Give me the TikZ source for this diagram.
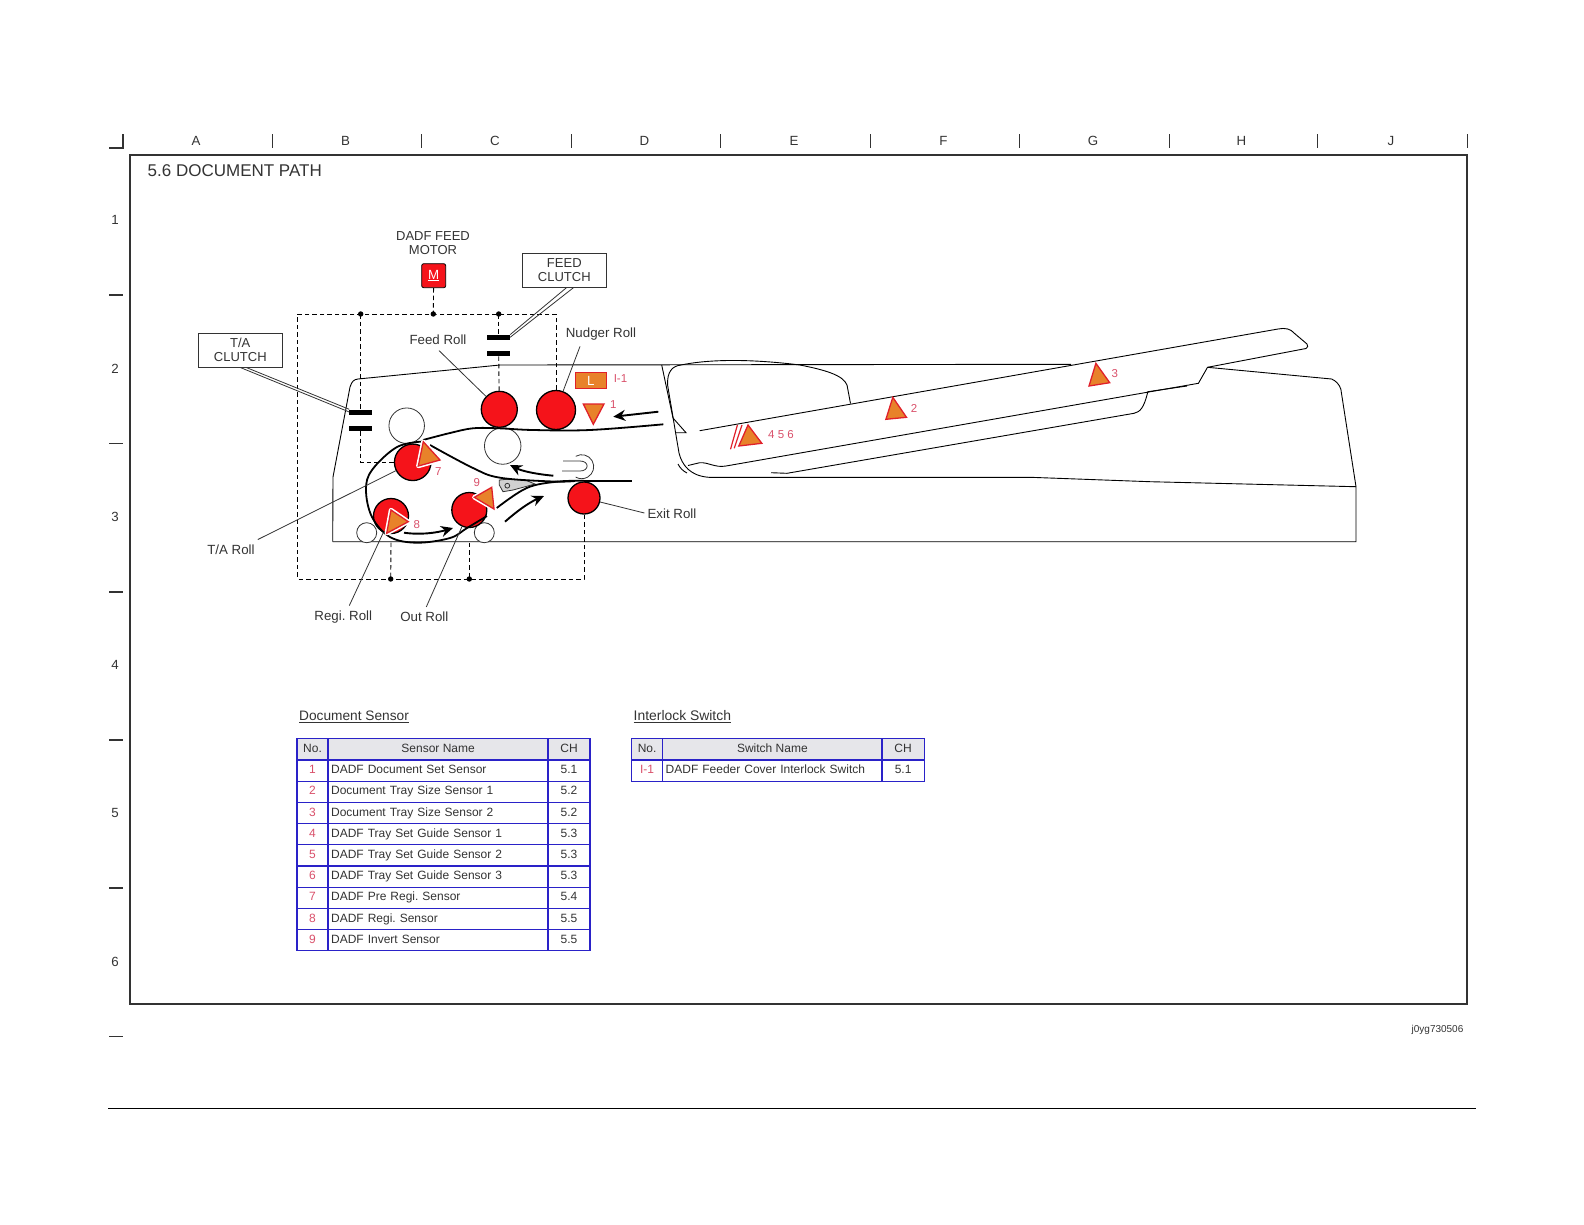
\documentclass[tikz,border=0pt]{standalone}
\usepackage{fontspec}
\setmainfont{Liberation Sans}
\usepackage{xcolor}
\usetikzlibrary{arrows.meta,calc}
\frenchspacing
\definecolor{inkgray}{HTML}{333333}
\definecolor{rollred}{HTML}{F5131A}
\definecolor{sensorfill}{HTML}{E8822A}
\definecolor{sensorred}{HTML}{E0202A}
\definecolor{labelred}{HTML}{D9506A}
\definecolor{tablblue}{HTML}{2A22C8}
\definecolor{headgray}{HTML}{E6E6EA}
\newcommand{\sensortri}[3]{\draw[sensorline] #1 -- #2 -- #3 -- cycle;}
\newcommand{\sensorhalo}[3]{\draw[white,line width=4.4pt,line join=round] #1 -- #2 -- #3 -- cycle; \draw[sensorline] #1 -- #2 -- #3 -- cycle;}
\begin{document}
\begin{tikzpicture}[x=1pt,y=-1pt,>=Stealth,font=\fontsize{13.3}{14}\selectfont,
  txt/.style={text=inkgray,inner sep=0pt,align=center},
  redtxt/.style={text=labelred,inner sep=0pt,font=\fontsize{11.5}{12}\selectfont},
  calloutbox/.style={draw=inkgray,line width=1pt,fill=white,text=inkgray,align=center,inner sep=0pt,minimum height=34pt},
  roll/.style={circle,draw=black,line width=1.3pt,fill=rollred,inner sep=0pt,minimum size=#1},
  idler/.style={circle,draw=inkgray,line width=.8pt,fill=white,inner sep=0pt,minimum size=#1},
  clutchbar/.style={fill=black,inner sep=0pt,minimum width=22.5pt,minimum height=5pt},
  dashline/.style={black,line width=.9pt,dash pattern=on 4.5pt off 3pt},
  thinline/.style={inkgray,line width=.8pt},
  shell/.style={black,line width=.9pt},
  paper/.style={black,line width=1.8pt},
  flow/.style={black,line width=1.9pt,-{Stealth[length=12pt,width=11pt]}},
  sensorline/.style={draw=sensorred,fill=sensorfill,line width=1.3pt,line join=miter},
  cell/.style={draw=tablblue,line width=1.3pt,inner sep=0pt,minimum height=21.2pt,text=inkgray,font=\fontsize{12}{13}\selectfont,text height=8.6pt,text depth=2.4pt},
  headcell/.style={cell,fill=headgray},
  namecell/.style={cell,text width=214pt,inner xsep=3pt,align=left}]
  \useasboundingbox (0,0) rectangle (1584,1224);
  \draw[inkgray,line width=1.6pt] (130,155) rectangle (1467,1004);
  \draw[inkgray,line width=1.2pt] (109,148) -- (123,148) -- (123,134);
  \foreach \c/\x [count=\k from 1] in {A/196,B/345.5,C/495,D/644.5,E/794,F/943.5,G/1093,H/1241.5,J/1391}{
    \node[txt] (col\k) at (\x,140.5) {\c};
    \draw[inkgray,line width=1pt] (\x+76,134) -- (\x+76,148);}
  \foreach \r/\y/\m in {1/220/295,2/369/443.5,3/517/592,4/665/740,5/813/888,6/962/1036.5}{
    \node[txt] (row\r) at (115,\y) {\r};
    \draw[inkgray,line width=1.6pt] (109,\m) -- (123,\m);}
  \node[txt,anchor=west,font=\fontsize{17}{18}\selectfont] (title) at (147.5,170.5) {5.6 DOCUMENT PATH};
  \draw[black,line width=.8pt] (108,1108.5) -- (1476,1108.5);
  \node[txt,font=\fontsize{10}{11}\selectfont] (figid) at (1437.5,1030) {j0yg730506};

  % housing and tray
  \draw[shell] (332.7,541.7) -- (333,477) -- (350,387) .. controls (352,381) and (354,379.5) .. (358,379) -- (500,365) -- (1071,364.3);
  \draw[shell] (332.7,541.7) -- (1356,541.7) -- (1356,486.7) -- (1150,481.7) -- (1030.6,477.3) -- (850,477.3) -- (709,477.3);
  \draw[shell] (709,477.3) .. controls (690,476) and (682,465) .. (679,453) -- (667.6,385) .. controls (667,372) and (672,366) .. (681,365) .. controls (715,358) and (760,360) .. (800,365) .. controls (825,370) and (843,375) .. (847,385) -- (850.5,403.5);
  \draw[shell] (661.7,365) -- (673,418) -- (686,432.7) -- (675,432.7);
  \draw[shell] (678,464) .. controls (680,468) and (683,471) .. (687,473);
  \draw[shell] (699.7,430.7) -- (1278,329) .. controls (1285,327.5) and (1291,329) .. (1294,333) -- (1307,344) .. controls (1308,346) and (1308,347.5) .. (1306,348.5) -- (1207.5,367.3) -- (1198.4,383.3) -- (726,466) .. controls (715,468) and (708,462) .. (699.7,462.7) -- (688,465.5);
  \draw[shell] (771,472.7) -- (787,473.3) -- (1134,413.3) .. controls (1140,412) and (1144,408) .. (1147.8,391.7) -- (1187,386);
  \draw[shell] (1207.5,367.3) -- (1331.6,379) .. controls (1336,381) and (1339,384) .. (1340.8,389) -- (1356,486.7);

  % drive lines
  \coordinate (jTA) at (360.7,314); \coordinate (jMotor) at (433.3,314); \coordinate (jFeed) at (498.7,314);
  \coordinate (jRegi) at (390.7,579); \coordinate (jOut) at (469.3,579);
  \node[draw=black,fill=rollred,rounded corners=2pt,line width=.8pt,minimum size=24pt,inner sep=0pt,text=white] (motor) at (433.7,275.7) {\underline{M}};
  \node[txt,font=\fontsize{13}{14}\selectfont] (motorlabel) at (433,243) {DADF FEED\\[.5pt]MOTOR};
  \node[clutchbar] (feedtop) at (498.7,337.3) {}; \node[clutchbar] (feedlow) at (498.7,353.7) {};
  \node[clutchbar] (tatop) at (360.7,412) {}; \node[clutchbar] (talow) at (360.7,428.3) {};
  \node[roll=36pt] (feedroll) at (499.3,409.3) {};
  \node[roll=39pt] (nudger) at (556,410) {};
  \node[idler=36.5pt] (feedidler) at (502.7,446) {};
  \node[idler=35.5pt] (taidler) at (406.7,425.7) {};
  \node[idler=20pt] (regiidler) at (366.7,532.7) {};
  \node[idler=20pt] (outidler) at (484.3,532.7) {};
  \node[roll=36.5pt] (taroll) at (412.7,462.3) {};
  \node[roll=35pt] (regiroll) at (391,516) {};
  \node[roll=35pt] (outroll) at (469.3,510) {};
  \node[roll=32pt] (exitroll) at (584,498) {};
  \draw[dashline] (motor) -- (jMotor);
  \draw[dashline] (jFeed) -- (feedtop); \draw[dashline] (feedlow) -- (feedroll);
  \draw[dashline] (jTA) -- (tatop); \draw[dashline] (talow) |- (taroll);
  \draw[dashline] (nudger.north) |- (jFeed) -- (jMotor) -- (jTA) -| (297.7,579) -- (jRegi) -- (jOut) -| (exitroll.south);
  \draw[dashline] (regiroll) ++(0,26.5) -- (jRegi); \draw[dashline] (outroll) ++(0,32.5) -- (jOut);
  \foreach \j in {jTA,jMotor,jFeed,jRegi,jOut}{\fill (\j) circle (2.7pt);}

  % exit switch and gate
  \draw[thinline] (575.7,456.3) arc (-120:120:12);
  \draw[thinline] (563,461) -- (580,461) .. controls (589.5,461) and (589.5,471) .. (580,471) -- (562,471);
  \draw[thinline,fill=black!18] (499.3,480) -- (506.7,479.3) -- (525,480) -- (535,484) -- (523,487.3) -- (513,490) -- (503,491.7) -- (499.3,485) -- cycle;
  \draw[thinline] (507.3,485.7) circle (2.4pt);

  % document path
  \draw[paper] plot[smooth,tension=.6] coordinates {(663.3,424.3) (590,430) (533,430) (499,428.3) (473,428.3) (450,433) (423,440)};
  \draw[paper] plot[smooth,tension=.6] coordinates {(423,441.5) (397,447) (372,470) (366,490) (372,517) (390,537) (417,542.7) (450,538) (467,528) (487,516)};
  \draw[paper] plot[smooth,tension=.6] coordinates {(496.7,508) (526.7,488) (556.7,481.7) (584,480.7)};
  \draw[paper] (584,480.7) -- (631.7,480.7);
  \draw[paper] plot[smooth,tension=.6] coordinates {(430,445) (473,468) (500,477.7) (553,481.5) (575,481)};
  \draw[flow] (658.3,411.7) -- (613.3,416.7);
  \draw[flow] (553.3,475.7) .. controls (535,474) and (522,471) .. (510,465);
  \draw[flow] (505,521.7) .. controls (516,512) and (528,503) .. (544,496);
  \draw[flow] (404,532.7) .. controls (420,535) and (436,533) .. (453,528);

  % sensors
  \node[draw=sensorred,fill=sensorfill,line width=1.6pt,minimum width=31pt,minimum height=16pt,inner sep=0pt,text=white] (interlock) at (590.8,380.6) {L};
  \node[redtxt] (interlocklabel) at (620.5,379) {I-1};
  \sensortri{(583.3,404)}{(604,404)}{(593.3,424.3)}
  \node[redtxt] (s1) at (613.3,405) {1};
  \sensorhalo{(423.3,441.7)}{(440,460)}{(418.3,466)}
  \node[redtxt] (s7) at (438.3,471.7) {7};
  \sensorhalo{(391,510)}{(408.3,521.7)}{(386.7,533.3)}
  \node[redtxt] (s8) at (416.7,525) {8};
  \sensorhalo{(491.7,487.3)}{(494,509)}{(474.3,497.3)}
  \node[redtxt] (s9) at (476.7,482.7) {9};
  \draw[sensorred,line width=1.2pt] (737.4,425) -- (730.5,449.3) (742,425) -- (734.2,448.3);
  \sensortri{(748,425)}{(761.8,443.3)}{(738.8,446)}
  \node[redtxt] (s456) at (781,434.5) {4 5 6};
  \sensortri{(892.8,397.3)}{(906.5,417.3)}{(885.9,419.3)}
  \node[redtxt] (s2) at (914,408.3) {2};
  \sensortri{(1095.9,363.3)}{(1109.7,382.7)}{(1089,386)}
  \node[redtxt] (s3) at (1114.7,373.3) {3};

  % callouts and roll names
  \node[calloutbox,minimum width=84.5pt,font=\fontsize{13}{14}\selectfont] (feedclutch) at (564.3,270.3) {FEED\\[.5pt]CLUTCH};
  \node[calloutbox,minimum width=84pt,font=\fontsize{13}{14}\selectfont] (taclutch) at (240.3,350) {T/A\\[.5pt]CLUTCH};
  \draw[thinline] (feedclutch.south) ++(9,0) -- (feedtop.east);
  \draw[thinline] (feedclutch.south) ++(2,0) -- (feedtop.north east);
  \draw[thinline] (taclutch.south) -- (tatop.west);
  \draw[thinline] (taclutch.south) ++(6,0) -- (tatop.north west);
  \node[txt] (feedlabel) at (438,339.5) {Feed Roll};
  \node[txt] (nudgerlabel) at (601,334) {Nudger Roll};
  \node[txt] (exitlabel) at (672,514) {Exit Roll};
  \node[txt] (talabel) at (231,549.5) {T/A Roll};
  \node[txt] (regilabel) at (343.3,617) {Regi. Roll};
  \node[txt] (outlabel) at (424.3,617) {Out Roll};
  \draw[thinline] (feedlabel.south) ++(1,6) -- (feedroll);
  \draw[thinline] (nudgerlabel.south) ++(-21,6) -- (nudger);
  \draw[thinline] (exitlabel.west) ++(-3,-1) -- (exitroll);
  \draw[thinline] (talabel.east) ++(3,-10) -- (taroll);
  \draw[thinline] (regilabel.north) ++(6,-5) -- (regiroll);
  \draw[thinline] (outlabel.north) ++(2,-5) -- (outroll);

  % tables
  \node[txt,anchor=west,font=\fontsize{13.7}{14}\selectfont] (doctitle) at (299,716.5) {\underline{Document Sensor}};
  \node[txt,anchor=west,font=\fontsize{13.9}{14}\selectfont] (locktitle) at (633.5,716.5) {\underline{Interlock Switch}};
  \node[headcell,minimum width=31.1pt,minimum height=21.7pt] (dhno) at (312.55,749.2) {No.};
  \node[headcell,minimum width=220pt,minimum height=21.7pt] (dhname) at (438.1,749.2) {Sensor Name};
  \node[headcell,minimum width=41.8pt,minimum height=21.7pt] (dhch) at (569,749.2) {CH};
  \foreach \no/\sname/\ch [count=\r from 0] in {1/DADF Document Set Sensor/5.1,2/Document Tray Size Sensor 1/5.2,3/Document Tray Size Sensor 2/5.2,4/DADF Tray Set Guide Sensor 1/5.3,5/DADF Tray Set Guide Sensor 2/5.3,6/DADF Tray Set Guide Sensor 3/5.3,7/DADF Pre Regi. Sensor/5.4,8/DADF Regi. Sensor/5.5,9/DADF Invert Sensor/5.5}{
    \pgfmathsetmacro\yr{770.6+\r*21.2}
    \node[cell,minimum width=31.1pt,text=labelred] (dno\no) at (312.55,\yr) {\no};
    \node[namecell] (dname\no) at (438.1,\yr) {\sname};
    \node[cell,minimum width=41.8pt] (dch\no) at (569,\yr) {\ch};}
  \node[headcell,minimum width=31.2pt,minimum height=21.7pt] (lhno) at (647.1,749.2) {No.};
  \node[headcell,minimum width=219.3pt,minimum height=21.7pt] (lhname) at (772.35,749.2) {Switch Name};
  \node[headcell,minimum width=42.3pt,minimum height=21.7pt] (lhch) at (903.15,749.2) {CH};
  \node[cell,minimum width=31.2pt,text=labelred] (lno) at (647.1,770.6) {I-1};
  \node[namecell,text width=213.3pt] (lname) at (772.35,770.6) {DADF Feeder Cover Interlock Switch};
  \node[cell,minimum width=42.3pt] (lch) at (903.15,770.6) {5.1};
\end{tikzpicture}
\end{document}
